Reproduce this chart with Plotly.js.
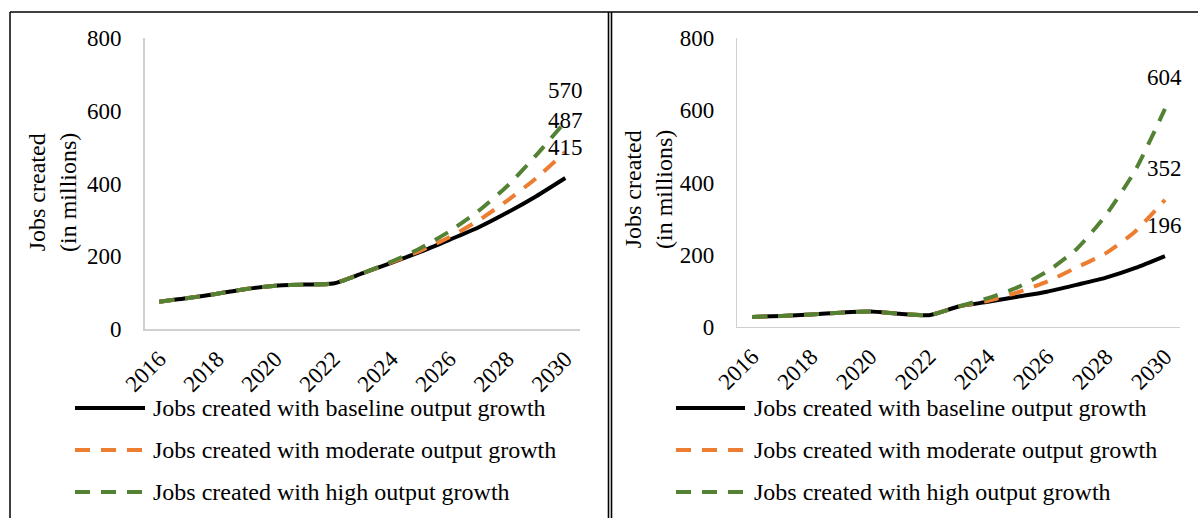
<!DOCTYPE html>
<html>
<head>
<meta charset="utf-8">
<script src="https://cdn.plot.ly/plotly-3.0.1.min.js"></script>
<style>
  html, body { margin: 0; padding: 0; background: #ffffff; }
  #chart { width: 1198px; height: 518px; }
</style>
</head>
<body>
<div id="chart"></div>
<script>
// ---------------- DATA ----------------
var years = [2016, 2017, 2018, 2019, 2020, 2021, 2022, 2023, 2024, 2025, 2026, 2027, 2028, 2029, 2030];
var tickYears = [2016, 2018, 2020, 2022, 2024, 2026, 2028, 2030];
var tickLabels = ["2016", "2018", "2020", "2022", "2024", "2026", "2028", "2030"];
var yTicks = [0, 200, 400, 600, 800];

var seriesNames = [
  "Jobs created with baseline output growth",
  "Jobs created with moderate output growth",
  "Jobs created with high output growth"
];

var leftBaseline = [75, 85, 97, 110, 119, 122, 125, 153, 182, 212, 245, 279, 320, 365, 415];
var leftModerate = [75, 85, 97, 110, 119, 122, 125, 153, 183, 215, 252, 298, 353, 415, 487];
var leftHigh     = [75, 85, 97, 110, 119, 122, 125, 153, 185, 222, 268, 324, 393, 478, 570];

var rightBaseline = [27, 30, 34, 39, 42, 36, 32, 56, 69, 83, 97, 116, 136, 163, 196];
var rightModerate = [27, 30, 34, 39, 42, 36, 32, 56, 72, 95, 125, 164, 204, 265, 352];
var rightHigh     = [27, 30, 34, 39, 42, 36, 32, 56, 79, 109, 153, 215, 310, 435, 604];

var yTitle = "Jobs created<br>(in millions)";

// ---------------- STYLE ----------------
var W = 1198, H = 518;
function px(x) { return x / W; }
function py(y) { return 1 - y / H; }
var FONT = "Liberation Serif, Times New Roman, serif";
var colors = ["#000000", "#ED7D31", "#548235"];
var dashes = ["solid", "15px,11px", "15px,11px"];
var lineW = 4;

var panels = [
  { data: [leftBaseline, leftModerate, leftHigh], xa: "x", ya: "y" },
  { data: [rightBaseline, rightModerate, rightHigh], xa: "x2", ya: "y2" }
];

var traces = [];
panels.forEach(function (p) {
  p.data.forEach(function (vals, i) {
    traces.push({
      type: "scatter", mode: "lines",
      x: years, y: vals, name: seriesNames[i],
      xaxis: p.xa, yaxis: p.ya,
      line: { color: colors[i], width: lineW, dash: dashes[i], shape: "spline", smoothing: 0.6 },
      hoverinfo: "skip", showlegend: false
    });
  });
});

function xAxis(domain, anchor) {
  return {
    domain: domain, anchor: anchor, range: [2015.5, 2030.5],
    tickmode: "array", tickvals: tickYears, ticktext: tickLabels,
    tickangle: -45, ticks: "", showgrid: false, zeroline: false,
    showline: true, linecolor: "#d0d0d0", linewidth: 1.5,
    ticklabelstandoff: 6,
    tickfont: { family: FONT, size: 23, color: "#000" },
    fixedrange: true
  };
}
function yAxis(domain, anchor) {
  return {
    domain: domain, anchor: anchor, range: [0, 800],
    tickmode: "array", tickvals: yTicks,
    ticks: "", showgrid: false, zeroline: false,
    showline: true, linecolor: "#d0d0d0", linewidth: 1.5,
    ticklabelstandoff: 17,
    tickfont: { family: FONT, size: 23, color: "#000" },
    fixedrange: true
  };
}

var annotations = [];
var shapes = [];

// data labels on final points
panels.forEach(function (p) {
  p.data.forEach(function (vals) {
    var last = vals.length - 1;
    annotations.push({
      xref: p.xa, yref: p.ya, x: years[last], y: vals[last],
      text: String(vals[last]), showarrow: false,
      xanchor: "center", yanchor: "middle", yshift: 31,
      font: { family: FONT, size: 23, color: "#000" }
    });
  });
});

// y titles
[[53, 192], [648, 189]].forEach(function (pos) {
  annotations.push({
    xref: "paper", yref: "paper", x: px(pos[0]), y: py(pos[1]),
    text: yTitle, showarrow: false, textangle: -90,
    xanchor: "center", yanchor: "middle",
    font: { family: FONT, size: 24, color: "#000" }
  });
});

// manual legends
var legendRows = [408, 450, 492];
[[75, 145, 151], [676, 745, 752]].forEach(function (lg) {
  seriesNames.forEach(function (nm, i) {
    shapes.push({
      type: "line", xref: "paper", yref: "paper",
      x0: px(lg[0]), x1: px(lg[1]), y0: py(legendRows[i]), y1: py(legendRows[i]),
      line: { color: colors[i], width: lineW, dash: dashes[i] }
    });
    annotations.push({
      xref: "paper", yref: "paper", x: px(lg[2]), y: py(legendRows[i]),
      text: nm, showarrow: false, xanchor: "left", yanchor: "middle",
      font: { family: FONT, size: 24, color: "#000" }
    });
  });
});

// frame lines
shapes.push({ type: "line", xref: "paper", yref: "paper", x0: px(10), x1: 1, y0: py(12), y1: py(12), line: { color: "#000", width: 1.5 } });
shapes.push({ type: "line", xref: "paper", yref: "paper", x0: px(10), x1: px(10), y0: py(12), y1: 0, line: { color: "#000", width: 1.5 } });
shapes.push({ type: "line", xref: "paper", yref: "paper", x0: px(608.5), x1: px(608.5), y0: py(12), y1: 0, line: { color: "#000", width: 1.6 } });
shapes.push({ type: "line", xref: "paper", yref: "paper", x0: px(611.5), x1: px(611.5), y0: py(12), y1: 0, line: { color: "#000", width: 1.6 } });

var layout = {
  width: W, height: H,
  margin: { l: 0, r: 0, t: 0, b: 0 },
  paper_bgcolor: "#ffffff", plot_bgcolor: "#ffffff",
  showlegend: false,
  font: { family: FONT, size: 23, color: "#000" },
  xaxis: xAxis([px(144.7), px(579.8)], "y"),
  yaxis: yAxis([py(329), py(38)], "x"),
  xaxis2: xAxis([px(737.3), px(1179.7)], "y2"),
  yaxis2: yAxis([py(326.7), py(38.3)], "x2"),
  annotations: annotations,
  shapes: shapes
};

Plotly.newPlot("chart", traces, layout, { displayModeBar: false, staticPlot: true });
</script>
</body>
</html>
